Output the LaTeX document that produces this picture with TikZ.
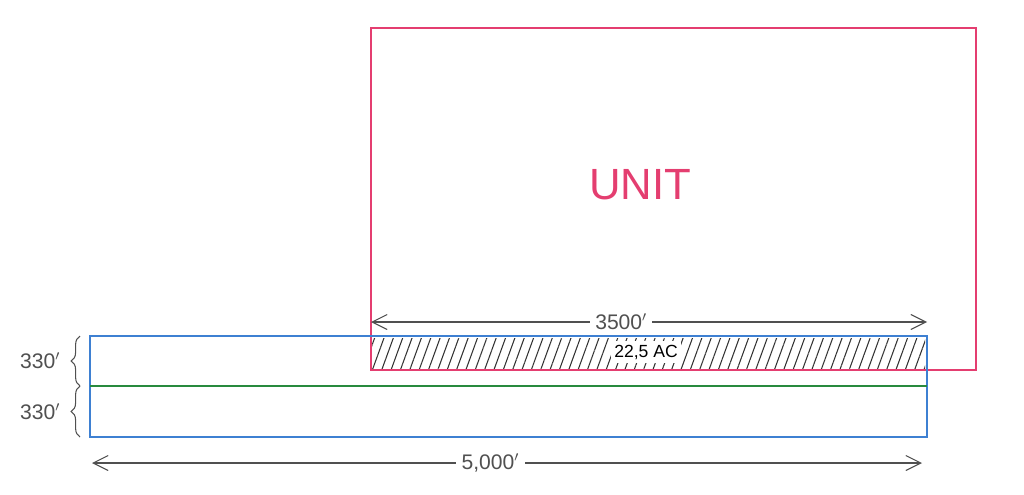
\documentclass[tikz,border=0pt]{standalone}
\usepackage{fontspec}
\setsansfont{Liberation Sans}
\usetikzlibrary{
    positioning,
    arrows.meta,
    decorations.pathreplacing,
    patterns.meta,
    calc
}
\definecolor{unitpink}{RGB}{228,62,112}
\definecolor{leaseblue}{RGB}{62,128,210}
\definecolor{splitgreen}{RGB}{40,138,62}
\definecolor{pencil}{RGB}{80,80,80}

\begin{document}
\begin{tikzpicture}[
    x=0.02cm, y=-0.02cm,
    outline/.style={
        line width=1.5pt,
        draw=#1,
    },
    dimline/.style={
        draw=pencil,
        semithick,
        {Straight Barb[length=3mm,width=3mm]}-{Straight Barb[length=3mm,width=3mm]},
    },
    dimlabel/.style={
        font=\sffamily\large,
        text=pencil,
        fill=white,
        inner sep=3pt,
    },
    bracemark/.style={
        draw=pencil,
        semithick,
        decorate,
        decoration={brace,amplitude=5pt},
    },
]
    \useasboundingbox (0,0) rectangle (1024,494);

    % corners
    \coordinate (unitNW)  at (371,28);
    \coordinate (unitSE)  at (976,370);
    \coordinate (leaseNW) at (90,336);
    \coordinate (leaseSE) at (927,437);
    \coordinate (splitW)  at (90,386);
    \coordinate (splitE)  at (927,386);

    % hatched overlap
    \fill[pattern={Lines[angle=70,distance=5pt,line width=0.6pt]}, pattern color=black!80]
        (372,338) rectangle (925,369);
    \node[fill=white, inner sep=2pt, font=\sffamily] (acres) at (646,352) {22,5 AC};

    \draw[outline=unitpink] (unitNW) rectangle (unitSE);
    \node[text=unitpink, font=\sffamily\Huge] (unit) at (640,185) {UNIT};

    \draw[outline=leaseblue] (leaseNW) rectangle (leaseSE);
    \draw[outline=splitgreen] (splitW) -- (splitE);

    % dimensions
    \coordinate (topL) at (371,322);
    \coordinate (topR) at (927,322);
    \draw[dimline] (topL) -- (topR)
        node[dimlabel, pos=0.45] (len3500) {3500$'$};

    \coordinate (botL) at (92,463);
    \coordinate (botR) at (922,463);
    \draw[dimline] (botL) -- (botR)
        node[dimlabel, pos=0.48] (len5000) {5,000$'$};

    \coordinate (braceA) at (80,336);
    \coordinate (braceB) at (80,386);
    \coordinate (braceC) at (80,437);
    \draw[bracemark] (braceB) -- (braceA);
    \draw[bracemark] (braceC) -- (braceB);
    \node[dimlabel, left=8pt of $(braceA)!0.5!(braceB)$] (wTop) {330$'$};
    \node[dimlabel, left=8pt of $(braceB)!0.5!(braceC)$] (wBot) {330$'$};

\end{tikzpicture}
\end{document}
